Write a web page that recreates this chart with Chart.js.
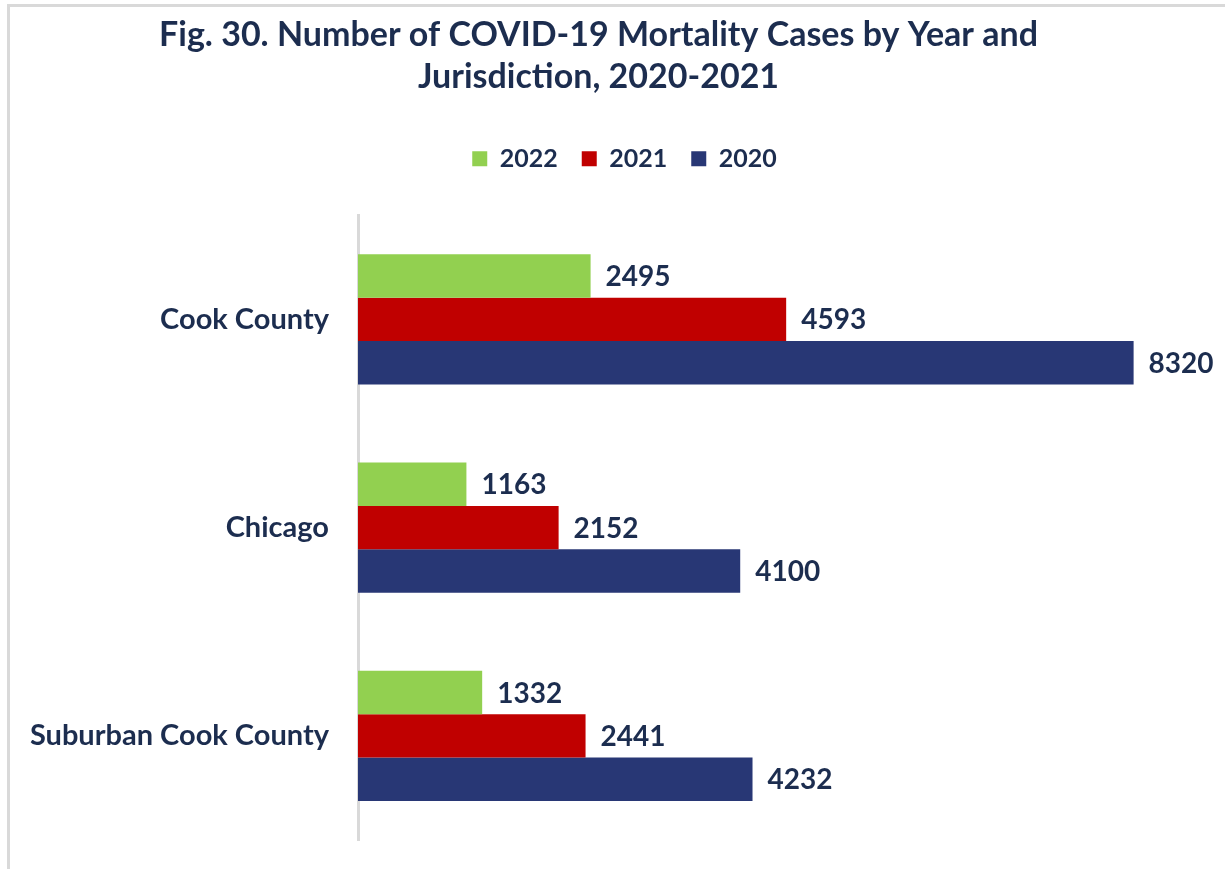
<!DOCTYPE html>
<html>
<head>
<meta charset="utf-8">
<script src="https://cdn.jsdelivr.net/npm/chart.js@4.4.1/dist/chart.umd.min.js"></script>
<style>
  html, body { margin: 0; padding: 0; background: #ffffff; }
  #wrap { position: relative; width: 1225px; height: 869px; overflow: hidden; }
  #frame { position: absolute; left: 7px; top: 4px; width: 1300px; height: 1000px;
           border-left: 3px solid #d9d9d9; border-top: 3px solid #d9d9d9; box-sizing: border-box; }
  canvas { position: absolute; left: 0; top: 0; }
</style>
</head>
<body>
<div id="wrap">
  <div id="frame"></div>
  <canvas id="chart" width="1225" height="869"></canvas>
</div>
<script>
// Jurisdictions shown on the category axis
const jurisdictions = ['Cook County', 'Chicago', 'Suburban Cook County'];

// Mortality counts per year, one value per jurisdiction
const years = ['2022', '2021', '2020'];
const deaths2022 = [2495, 1163, 1332];
const deaths2021 = [4593, 2152, 2441];
const deaths2020 = [8320, 4100, 4232];

const titleLines = ['Fig. 30. Number of COVID-19 Mortality Cases by Year and', 'Jurisdiction, 2020-2021'];

const TEXT = '#1c2d4f';
const FONT = 'Lato, "Open Sans", sans-serif';

// Prints each bar's value just past its end
const valueLabels = {
  id: 'valueLabels',
  afterDatasetsDraw(chart) {
    const ctx = chart.ctx;
    ctx.save();
    ctx.font = 'bold 28px ' + FONT;
    ctx.fillStyle = TEXT;
    ctx.textAlign = 'left';
    ctx.textBaseline = 'middle';
    chart.data.datasets.forEach((ds, i) => {
      chart.getDatasetMeta(i).data.forEach((bar, j) => {
        ctx.fillText(String(ds.data[j]), bar.x + 15, bar.y + 1);
      });
    });
    ctx.restore();
  }
};

// Nudges the legend row to the right of the title's centre line
const legendShift = {
  id: 'legendShift',
  afterLayout(chart) {
    const lg = chart.legend;
    if (lg) { lg.left += 26; lg.right += 26; }
  }
};

new Chart(document.getElementById('chart'), {
  type: 'bar',
  data: {
    labels: jurisdictions,
    datasets: [
      { label: years[0], data: deaths2022, backgroundColor: '#92d050' },
      { label: years[1], data: deaths2021, backgroundColor: '#c00000' },
      { label: years[2], data: deaths2020, backgroundColor: '#283775' }
    ]
  },
  options: {
    indexAxis: 'y',
    responsive: false,
    animation: false,
    layout: { padding: { top: 8, left: 0, right: 28, bottom: 29 } },
    datasets: { bar: { categoryPercentage: 0.625, barPercentage: 1.0 } },
    scales: {
      x: {
        position: 'top',
        min: 0, max: 9000,
        grid: { display: false, drawTicks: false },
        border: { display: false },
        ticks: { display: false },
        afterFit(scale) { scale.height = 34; }
      },
      y: {
        grid: { display: false, drawTicks: false },
        border: { display: true, color: '#d9d9d9', width: 3 },
        ticks: { color: TEXT, padding: 29, font: { family: FONT, size: 29, weight: 'bold' } },
        afterFit(scale) {
          scale.width = 358;
          // category labels sit well inside the plot; no extra edge room needed
          scale.paddingTop = 0;
          scale.paddingBottom = 0;
        }
      }
    },
    plugins: {
      title: {
        display: true,
        text: titleLines,
        color: TEXT,
        font: { family: FONT, size: 34, weight: 'bold', lineHeight: 1.24 },
        padding: { top: 6, bottom: 24 }
      },
      legend: {
        position: 'top',
        labels: {
          color: TEXT,
          boxWidth: 15, boxHeight: 15,
          padding: 24,
          font: { family: FONT, size: 25, weight: 'bold' }
        }
      },
      tooltip: { enabled: false }
    }
  },
  plugins: [valueLabels, legendShift]
});
</script>
</body>
</html>
